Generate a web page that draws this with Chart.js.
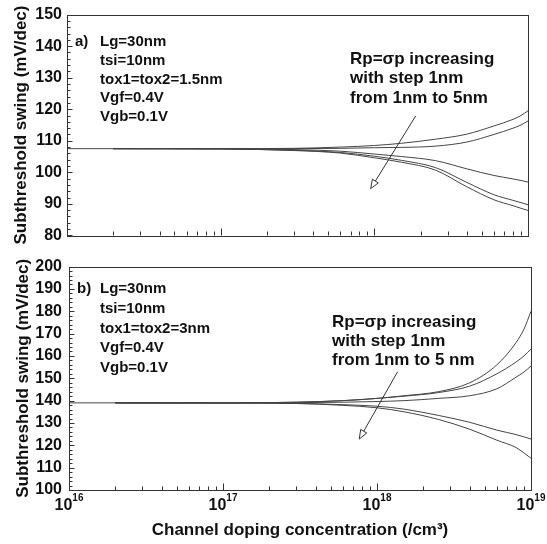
<!DOCTYPE html>
<html>
<head>
<meta charset="utf-8">
<script src="https://cdn.jsdelivr.net/npm/chart.js@4.4.1/dist/chart.umd.min.js"></script>
<style>
  html, body { margin: 0; padding: 0; background: #fff; }
  #wrap { position: relative; width: 547px; height: 544px; }
  #panelA { position: absolute; left: 0; top: 0; width: 547px; height: 250px; }
  #panelB { position: absolute; left: 0; top: 250px; width: 547px; height: 294px; }
</style>
</head>
<body>
<div id="wrap">
  <div id="panelA"><canvas id="chartA"></canvas></div>
  <div id="panelB"><canvas id="chartB"></canvas></div>
</div>
<script>
// channel doping (/cm3), shared by every curve
const doping = [1e16, 2e16, 1e17, 3e17, 6e17, 1e18, 1.5e18, 2.5e18, 4e18, 6e18, 8e18, 9e18, 1e19];

// a) tox1=tox2=1.5nm, one curve per Rp = 1..5 nm
const swingA1 = [107.5, 107.5, 107.5, 107.6, 108.0, 108.5, 109.2, 110.5, 112.1, 114.7, 116.8, 118.0, 119.5];
const swingA2 = [null, 107.5, 107.5, 107.5, 107.6, 107.8, 107.9, 108.3, 109.6, 112.0, 114.0, 115.0, 116.3];
const swingA3 = [null, 107.5, 107.5, 107.2, 106.7, 105.8, 105.0, 103.7, 101.1, 99.0, 97.9, 97.4, 96.9];
const swingA4 = [null, 107.5, 107.4, 107.0, 106.3, 105.1, 103.8, 101.5, 96.8, 92.9, 91.1, 90.4, 89.7];
const swingA5 = [null, 107.5, 107.4, 106.9, 106.1, 104.6, 103.2, 100.7, 95.4, 91.3, 89.4, 88.6, 87.9];

// b) tox1=tox2=3nm
const swingB1 = [139, 139, 139, 139.3, 140, 141, 142.2, 144.0, 148.0, 156.0, 166.0, 172.0, 180.0];
const swingB2 = [null, 139, 139, 139.3, 140, 141, 142.0, 143.6, 146.5, 152.0, 157.3, 160.0, 163.1];
const swingB3 = [null, 139, 139, 139.1, 139.3, 139.6, 140.0, 141.0, 142.2, 145.3, 150.5, 152.8, 155.5];
const swingB4 = [null, 139, 139, 138.8, 138.2, 137.5, 136.2, 133.4, 130.3, 126.8, 124.8, 123.8, 122.8];
const swingB5 = [null, 139, 138.9, 138.7, 137.9, 136.8, 135.0, 131.6, 127.2, 122.3, 119.0, 116.6, 114.2];

// axis labels
const xDecades = [16, 17, 18, 19];
const yRangeA = [80, 150];
const yRangeB = [100, 200];

const FONT = '"Liberation Sans", Arial, Helvetica, sans-serif';
const INK = '#111';
Chart.defaults.font.family = FONT;

// frame, inward ticks, 10^n labels, notes and arrow
const panelDecor = {
  id: 'panelDecor',
  afterDraw(chart, args, o) {
    const { ctx, chartArea: a, scales: { x, y } } = chart;
    ctx.save();
    ctx.strokeStyle = '#333';
    ctx.lineWidth = 1;
    ctx.strokeRect(Math.round(a.left) + 0.5, Math.round(a.top) + 0.5,
                   Math.round(a.right - a.left), Math.round(a.bottom - a.top));

    ctx.beginPath();
    const bottom = Math.round(a.bottom) + 0.5;
    xDecades.forEach(e => {
      for (let m = 1; m <= 9; m++) {
        if (e === xDecades[xDecades.length - 1] && m > 1) break;
        const px = Math.round(x.getPixelForValue(m * Math.pow(10, e))) + 0.5;
        ctx.moveTo(px, bottom);
        ctx.lineTo(px, bottom - (m === 1 ? 7 : 4));
      }
    });
    const left = Math.round(a.left) + 0.5;
    for (let v = y.min; v <= y.max; v += 2) {
      const py = Math.round(y.getPixelForValue(v)) + 0.5;
      ctx.moveTo(left, py);
      ctx.lineTo(left + (v % 10 === 0 ? 5 : 3), py);
    }
    ctx.stroke();

    ctx.fillStyle = INK;
    if (o.xLabels) {
      ctx.textBaseline = 'alphabetic';
      ctx.textAlign = 'left';
      xDecades.forEach(e => {
        const px = x.getPixelForValue(Math.pow(10, e));
        ctx.font = 'bold 16px ' + FONT;
        const w1 = ctx.measureText('10').width;
        ctx.font = 'bold 10px ' + FONT;
        const w2 = ctx.measureText(String(e)).width;
        const x0 = px - (w1 + w2) / 2;
        ctx.font = 'bold 16px ' + FONT;
        ctx.fillText('10', x0, a.bottom + 20);
        ctx.font = 'bold 10px ' + FONT;
        ctx.fillText(String(e), x0 + w1, a.bottom + 11);
      });
    }

    ctx.textBaseline = 'middle';
    ctx.textAlign = 'left';
    (o.notes || []).forEach(n => {
      ctx.font = 'bold ' + n.size + 'px ' + FONT;
      ctx.fillText(n.text, n.x, n.y);
    });

    if (o.arrow) {
      const x1 = x.getPixelForValue(o.arrow.from[0]), y1 = y.getPixelForValue(o.arrow.from[1]);
      const x2 = x.getPixelForValue(o.arrow.to[0]), y2 = y.getPixelForValue(o.arrow.to[1]);
      const ang = Math.atan2(y2 - y1, x2 - x1);
      const len = 9, half = 3.5;
      const bx = x2 - len * Math.cos(ang), by = y2 - len * Math.sin(ang);
      ctx.strokeStyle = '#333';
      ctx.beginPath();
      ctx.moveTo(x1, y1);
      ctx.lineTo(bx, by);
      ctx.stroke();
      ctx.beginPath();
      ctx.moveTo(x2, y2);
      ctx.lineTo(bx + half * Math.sin(ang), by - half * Math.cos(ang));
      ctx.lineTo(bx - half * Math.sin(ang), by + half * Math.cos(ang));
      ctx.closePath();
      ctx.fillStyle = '#fff';
      ctx.fill();
      ctx.stroke();
    }
    ctx.restore();
  }
};

function makePanel(id, series, yRange, pad, tickPad, xHeight, showXTitle, decor) {
  return new Chart(document.getElementById(id), {
    type: 'line',
    data: {
      datasets: series.map(s => ({
        data: doping.map((d, i) => ({ x: d, y: s[i] })),
        borderColor: '#454545',
        borderWidth: 1,
        pointRadius: 0,
        fill: false,
        cubicInterpolationMode: 'monotone'
      }))
    },
    options: {
      responsive: true,
      maintainAspectRatio: false,
      animation: false,
      layout: { padding: pad },
      plugins: {
        legend: { display: false },
        tooltip: { enabled: false },
        panelDecor: decor
      },
      scales: {
        x: {
          type: 'logarithmic',
          min: 1e16,
          max: 1e19,
          grid: { display: false, drawTicks: false },
          border: { display: false },
          ticks: { display: false },
          title: {
            display: showXTitle,
            text: 'Channel doping concentration (/cm³)',
            color: INK,
            font: { size: 17, weight: 'bold' },
            padding: { top: 0, bottom: 3 }
          },
          afterFit: s => { s.height = xHeight; }
        },
        y: {
          min: yRange[0],
          max: yRange[1],
          grid: { display: false, drawTicks: false },
          border: { display: false },
          ticks: { stepSize: 10, padding: tickPad, color: INK, font: { size: 16, weight: 'bold' } },
          title: {
            display: true,
            text: 'Subthreshold swing (mV/dec)',
            color: INK,
            font: { size: 17, weight: 'bold' },
            padding: { top: 6, bottom: 0 }
          },
          afterFit: s => { s.width = 62; }
        }
      }
    },
    plugins: [panelDecor]
  });
}

makePanel('chartA', [swingA1, swingA2, swingA3, swingA4, swingA5], yRangeA,
  { left: 5, right: 19, top: 12, bottom: 0 }, 5, 10, false, {
    xLabels: false,
    notes: [
      { text: 'a)', x: 75, y: 42, size: 15 },
      { text: 'Lg=30nm', x: 100, y: 42, size: 15 },
      { text: 'tsi=10nm', x: 100, y: 61, size: 15 },
      { text: 'tox1=tox2=1.5nm', x: 100, y: 80, size: 15 },
      { text: 'Vgf=0.4V', x: 100, y: 98, size: 15 },
      { text: 'Vgb=0.1V', x: 100, y: 117, size: 15 },
      { text: 'Rp=σp increasing', x: 350, y: 59, size: 17 },
      { text: 'with step 1nm', x: 350, y: 78, size: 17 },
      { text: 'from 1nm to 5nm', x: 350, y: 98, size: 17 }
    ],
    arrow: { from: [1.86e18, 117.9], to: [9.46e17, 94.8] }
  });

makePanel('chartB', [swingB1, swingB2, swingB3, swingB4, swingB5], yRangeB,
  { left: 7, right: 16, top: 13, bottom: 0 }, 7, 54, true, {
    xLabels: true,
    notes: [
      { text: 'b)', x: 77, y: 39, size: 15 },
      { text: 'Lg=30nm', x: 100, y: 39, size: 15 },
      { text: 'tsi=10nm', x: 100, y: 59, size: 15 },
      { text: 'tox1=tox2=3nm', x: 100, y: 79, size: 15 },
      { text: 'Vgf=0.4V', x: 100, y: 98, size: 15 },
      { text: 'Vgb=0.1V', x: 100, y: 118, size: 15 },
      { text: 'Rp=σp increasing', x: 332, y: 72, size: 17 },
      { text: 'with step 1nm', x: 332, y: 91, size: 17 },
      { text: 'from 1nm to 5 nm', x: 332, y: 110, size: 17 }
    ],
    arrow: { from: [1.36e18, 152.9], to: [7.67e17, 122.8] }
  });
</script>
</body>
</html>
